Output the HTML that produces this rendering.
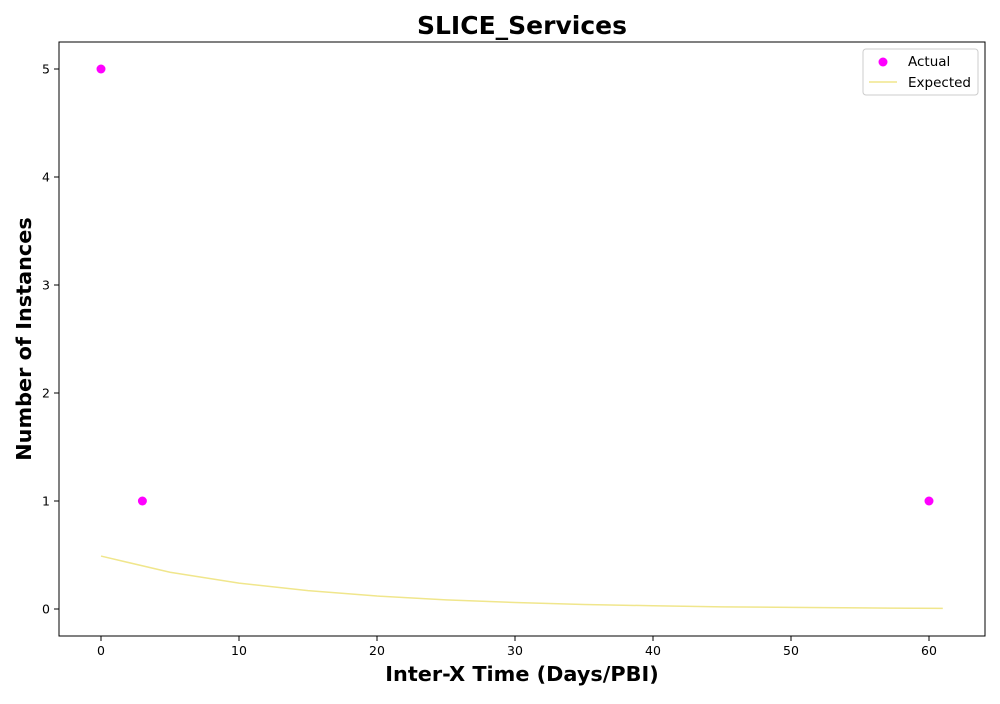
<!DOCTYPE html>
<html><head><meta charset="utf-8"><style>
body{margin:0;background:#fff;font-family:"DejaVu Sans","Liberation Sans",sans-serif}
</style></head><body>
<svg id="c" width="1000" height="700" xmlns="http://www.w3.org/2000/svg" font-family="DejaVu Sans, Liberation Sans, sans-serif"></svg>
<script>
const xTicks=[0,10,20,30,40,50,60];
const yTicks=[0,1,2,3,4,5];
const actualX=[0,3,60];
const actualY=[5,1,1];
const expX=[0,5,10,15,20,25,30,35,40,45,50,55,61];
const expY=[0.49,0.34,0.24,0.17,0.12,0.085,0.06,0.042,0.03,0.02,0.015,0.01,0.006];
const L=59,R=985,T=42,B=636;
const sx=v=>101+v*(929-101)/60;
const sy=v=>609-v*(609-69)/5;
const svg=document.getElementById('c');
const NS='http://www.w3.org/2000/svg';
function mk(tag,attrs,name,text){const e=document.createElementNS(NS,tag);for(const k in attrs)e.setAttribute(k,attrs[k]);


if(text!==undefined)e.textContent=text;svg.appendChild(e);return e;}
mk('rect',{x:L,y:T,width:R-L,height:B-T,fill:'none',stroke:'#000','stroke-width':1},'plot-frame');
xTicks.forEach(t=>{const x=sx(t);mk('line',{x1:x,x2:x,y1:B,y2:B+5,stroke:'#000'},'x-tick');
mk('text',{x:x,y:B+19,'text-anchor':'middle','font-size':12.5},'x-tick-label',String(t));});
yTicks.forEach(t=>{const y=sy(t);mk('line',{x1:L-5,x2:L,y1:y,y2:y,stroke:'#000'},'y-tick');
mk('text',{x:L-9,y:y+4.5,'text-anchor':'end','font-size':12.5},'y-tick-label',String(t));});
let d=expX.map((v,i)=>(i?'L':'M')+sx(v)+','+sy(expY[i])).join(' ');
mk('path',{d:d,fill:'none',stroke:'#f0e68c','stroke-width':1.5},'expected-line');
actualX.forEach((v,i)=>mk('circle',{cx:sx(v),cy:sy(actualY[i]),r:4.5,fill:'#ff00ff'},'actual-point'));
mk('text',{x:522,y:34,'text-anchor':'middle','font-size':25,'font-weight':'bold'},'chart-title','SLICE_Services');
mk('text',{x:522,y:681,'text-anchor':'middle','font-size':20.8,'font-weight':'bold'},'x-axis-title','Inter-X Time (Days/PBI)');
mk('text',{x:31,y:339,'text-anchor':'middle','font-size':20.8,'font-weight':'bold',transform:'rotate(-90 31 339)'},'y-axis-title','Number of Instances');
mk('rect',{x:863,y:49,width:115,height:46,rx:3,fill:'#fff',stroke:'#ccc'},'legend-box');
mk('circle',{cx:883,cy:62,r:4.5,fill:'#ff00ff'},'legend-actual-marker');
mk('text',{x:908,y:66,'font-size':13.5},'legend-actual-label','Actual');
mk('line',{x1:869,x2:897,y1:82,y2:82,stroke:'#f0e68c','stroke-width':1.5},'legend-expected-line');
mk('text',{x:908,y:87,'font-size':13.5},'legend-expected-label','Expected');
</script>
</body></html>
